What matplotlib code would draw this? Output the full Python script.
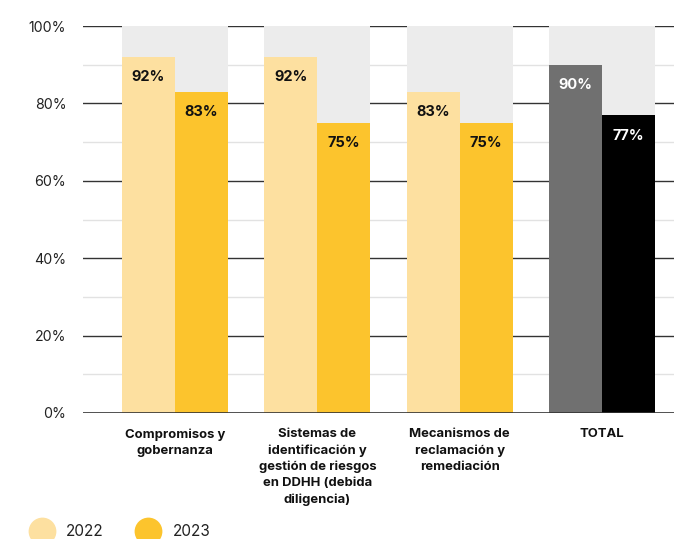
import matplotlib
matplotlib.use("Agg")
import matplotlib.pyplot as plt
from matplotlib.lines import Line2D
import numpy as np

categories = ["Compromisos y\ngobernanza",
              "Sistemas de\nidentificación y\ngestión de riesgos\nen DDHH (debida\ndiligencia)",
              "Mecanismos de\nreclamación y\nremediación",
              "TOTAL"]
values_2022 = [92, 92, 83, 90]
values_2023 = [83, 75, 75, 77]
series_labels = ["2022", "2023"]

plt.rcParams['font.family'] = ['Inter', 'DejaVu Sans']

fig = plt.figure(figsize=(6.74, 5.39), dpi=100)
ax = fig.add_axes([83/674, (539-413)/539, (674-83)/674, (413-26)/539])

x = np.arange(len(categories))
w = 0.372
c22 = ['#fde0a0'] * 3 + ['#707070']
c23 = ['#fcc42d'] * 3 + ['#000000']
t22 = ['#111111'] * 3 + ['#ffffff']
t23 = ['#111111'] * 3 + ['#ffffff']

ax.bar(x, [100] * len(x), width=2 * w, color='#ececec', zorder=2, linewidth=0)
ax.bar(x - w / 2, values_2022, width=w, color=c22, zorder=3, linewidth=0)
ax.bar(x + w / 2, values_2023, width=w, color=c23, zorder=3, linewidth=0)

for i in range(len(x)):
    ax.text(x[i] - w / 2, values_2022[i] - 5.3, f"{values_2022[i]}%", ha='center', va='center',
            fontsize=10.5, fontweight='bold', color=t22[i], zorder=4)
    ax.text(x[i] + w / 2, values_2023[i] - 5.3, f"{values_2023[i]}%", ha='center', va='center',
            fontsize=10.5, fontweight='bold', color=t23[i], zorder=4)

ax.set_ylim(0, 100)
ax.set_xlim(-0.646, 3.505)
ax.set_yticks(range(0, 101, 20))
ax.set_yticklabels([f"{v}%" for v in range(0, 101, 20)], fontsize=10.2, color='#222222')
for v in range(10, 100, 20):
    ax.axhline(v, color='#e2e2e2', lw=1, zorder=1)
for v in range(20, 101, 20):
    ax.axhline(v, color='#333333', lw=1, zorder=1)
ax.axhline(0, color='#333333', lw=1.2, zorder=5)

ax.set_xticks(x)
ax.set_xticklabels(categories, fontsize=9.4, fontweight='bold', color='#111111', linespacing=1.42, va='top')
ax.tick_params(axis='both', length=0)
ax.tick_params(axis='x', pad=11)
ax.tick_params(axis='y', pad=12)
for s in ax.spines.values():
    s.set_visible(False)

handles = [Line2D([], [], marker='o', ls='none', markersize=20, markerfacecolor=c, markeredgewidth=0)
           for c in ['#fde0a0', '#fcc42d']]
fig.legend(handles, series_labels, loc='center left', bbox_to_anchor=(0.028, 0.013), ncol=2,
           frameon=False, fontsize=11, handletextpad=0.6, columnspacing=1.9, borderpad=0,
           labelcolor='#222222')

fig.savefig("out.png", dpi=100)
